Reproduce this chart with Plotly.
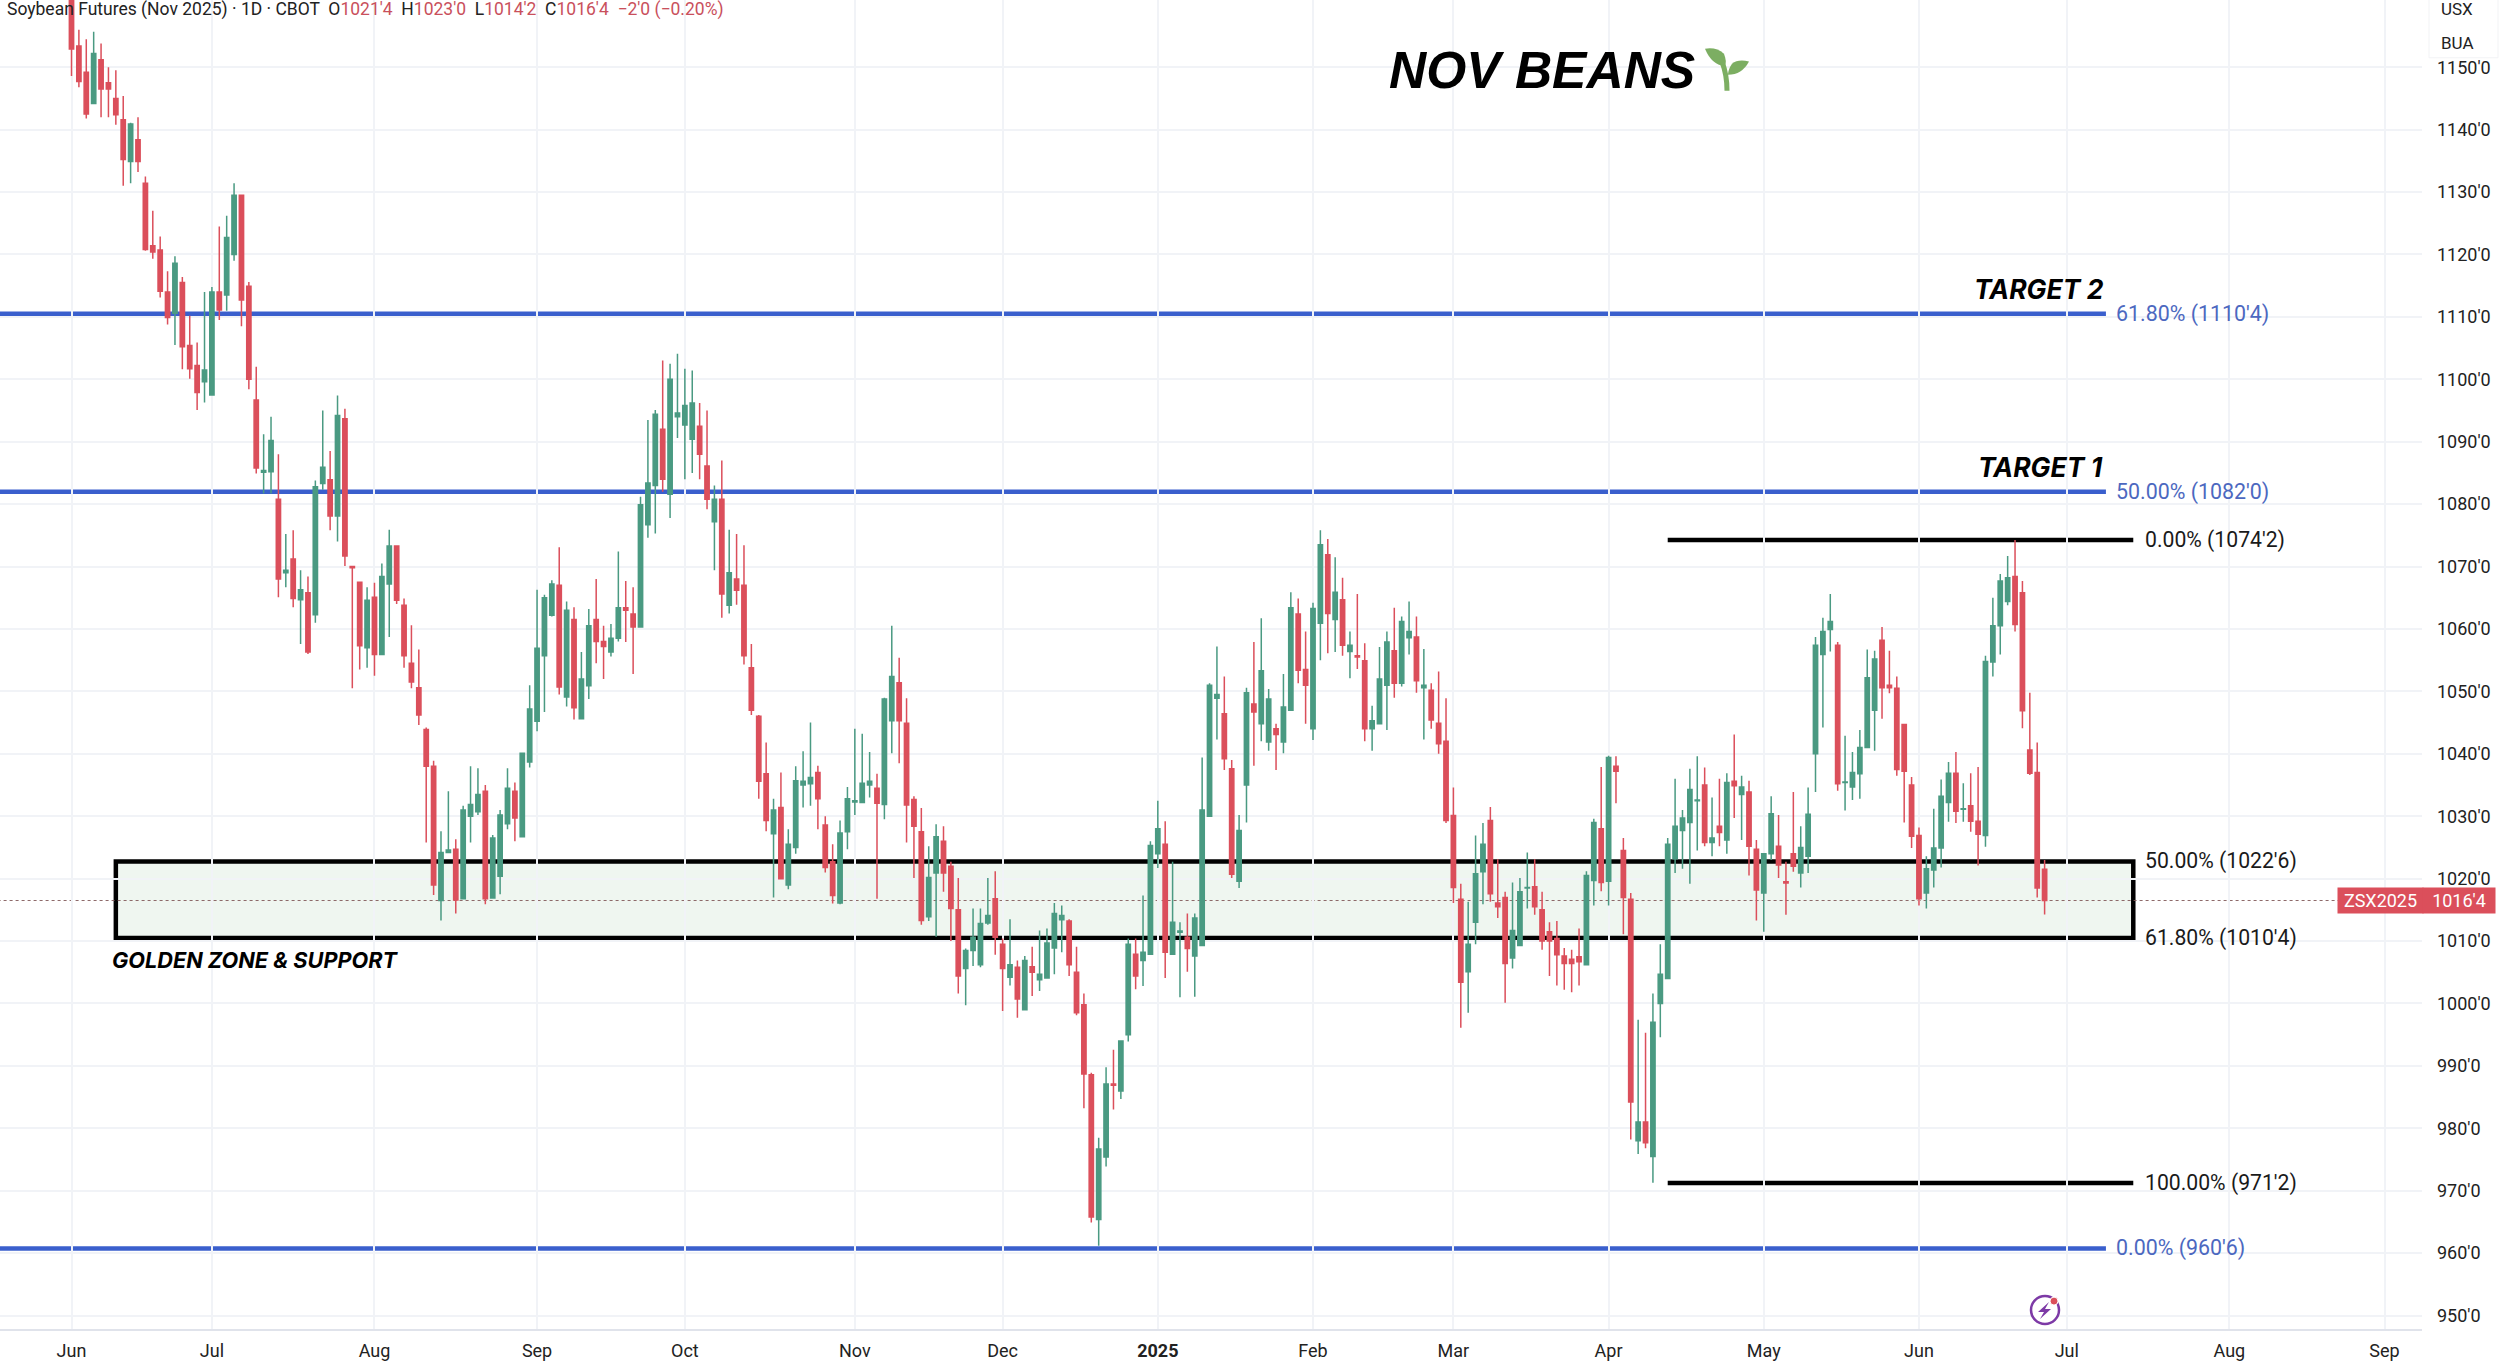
import plotly.graph_objects as go

# daily bars (prices in cents), first bar sits on the Jun line
opens = [1170, 1153.4, 1149.2, 1144.2, 1151.2, 1147.5, 1145, 1141.6, 1134.9, 1138.4,
         1131.4, 1121.4, 1120.7, 1114, 1110.6, 1115.5, 1105.4, 1102.2, 1099.6, 1097.5,
         1114, 1113.5, 1120, 1129.5, 1114.9, 1096.7, 1085.1, 1085.2, 1080.8, 1069,
         1071.2, 1064.7, 1065.8, 1062.3, 1083.3, 1083.9, 1078.1, 1093.7, 1070, 1067.5,
         1057, 1065.1, 1055.9, 1067.2, 1073.3, 1063.8, 1054.5, 1050.6, 1043.9, 1038,
         1016.5, 1024.2, 1024.7, 1016.8, 1030, 1030.7, 1034, 1016.9, 1020.4, 1028.8,
         1034, 1026.7, 1038.7, 1045.2, 1055.7, 1062.2, 1067, 1049.1, 1061.5, 1045.6,
         1050.9, 1061.5, 1058, 1056.3, 1058.5, 1063.4, 1062.4, 1060.3, 1076.7, 1083,
         1092, 1081.6, 1094, 1092.7, 1090.4, 1092.5, 1086.1, 1077.2, 1080.8, 1063.8,
         1068, 1067, 1053.8, 1046, 1036.8, 1027.2, 1031.4, 1019, 1025, 1035,
         1035.2, 1037, 1028.6, 1022.7, 1016.1, 1027.5, 1032.3, 1032.2, 1035, 1034.5,
         1031.9, 1045.3, 1051.4, 1044.9, 1032.7, 1027.5, 1013.9, 1020.9, 1026, 1022,
         1015, 1005.6, 1008.5, 1006.2, 1012.9, 1016.8, 1009.5, 1004.2, 1005.8, 999,
         1005.9, 1003.8, 1004.1, 1008.9, 1013.4, 1013.2, 1005, 999.8, 988.6, 965.4,
         975.4, 987.1, 986, 995, 1007.9, 1006.9, 1007.9, 1024, 1025.5, 1007.9,
         1011.4, 1010.6, 1007.6, 1009.3, 1030, 1048.9, 1046.4, 1037.6, 1019.6, 1035,
         1048, 1044.8, 1041.9, 1044, 1041.9, 1047, 1062.4, 1053.5, 1044, 1060.9,
         1071.9, 1061.5, 1064.7, 1056.4, 1055.7, 1054.9, 1044, 1044.8, 1051, 1056.5,
         1051.3, 1058.6, 1058.7, 1050.6, 1050.2, 1044.9, 1042, 1030.1, 1016.7, 1005.1,
         1013, 1021.1, 1029.3, 1016.1, 1017, 1007.3, 1009.3, 1018.5, 1018.7, 1015,
         1011.5, 1010.4, 1007.6, 1007.1, 1007.5, 1006.2, 1019.7, 1028, 1019.6, 1038,
         1024.5, 1016.7, 978, 981, 975.5, 1000, 1004, 1023.2, 1027.7, 1029,
         1032.5, 1035, 1025.8, 1028.4, 1026.2, 1035.6, 1033.5, 1033.9, 1024.7, 1017.7,
         1024, 1025.2, 1019.5, 1024, 1020.9, 1023.6, 1040, 1055.9, 1059.9, 1057.4,
         1035.4, 1034.7, 1036.8, 1041, 1047, 1058.2, 1051, 1050.5, 1044.7, 1035,
         1026.9, 1017.7, 1021.4, 1024.9, 1032.2, 1036.9, 1031.1, 1031.7, 1029.2, 1026.9,
         1054.7, 1060.5, 1064.4, 1068.4, 1065.8, 1040.6, 1037, 1021.5]
highs = [1172, 1156, 1154.5, 1155.7, 1153.8, 1150, 1149.5, 1145.4, 1141.1, 1142,
         1132.5, 1127, 1122.9, 1117.3, 1119.7, 1116.4, 1110.2, 1105.9, 1114, 1114.8,
         1124.5, 1126.2, 1131.4, 1129.5, 1115.6, 1102, 1091.2, 1094, 1088, 1075.2,
         1075.8, 1069.4, 1068.4, 1083.8, 1095, 1088.5, 1097.4, 1095.3, 1070.1, 1067.5,
         1066.7, 1067.4, 1070.5, 1075.9, 1073.4, 1064.9, 1060.6, 1056.7, 1044.2, 1038.9,
         1027.6, 1034, 1026.3, 1031.7, 1038, 1037.7, 1035, 1027, 1031, 1037.7,
         1035.4, 1040.2, 1051, 1066.3, 1065.5, 1067.8, 1073.1, 1064.4, 1063.5, 1056.3,
         1063.2, 1068, 1060.5, 1060.8, 1072.4, 1067.7, 1066.7, 1081.2, 1093.5, 1095.1,
         1103, 1102.5, 1104.1, 1101.7, 1101.4, 1096.2, 1095, 1083, 1087, 1075.9,
         1075.2, 1073.4, 1057.6, 1046.2, 1041.8, 1032.8, 1037, 1027.9, 1038, 1040.4,
         1045, 1038.1, 1030, 1025.5, 1029.3, 1034.7, 1044, 1043.2, 1040.3, 1036.8,
         1049, 1060.5, 1055.4, 1048.9, 1033.2, 1031.3, 1025.2, 1028.7, 1028.4, 1022.7,
         1020.1, 1008.8, 1015.2, 1015.2, 1020.1, 1021.2, 1010.4, 1013.5, 1006.9, 1007.6,
         1009.1, 1011.7, 1012, 1016.1, 1015.7, 1013.5, 1009.1, 1001.6, 988.9, 978.5,
         989.8, 992.6, 994.1, 1010.4, 1010.4, 1017.3, 1026, 1032.5, 1029.2, 1022.7,
         1013, 1014.4, 1014.4, 1039.4, 1051.3, 1057.2, 1052.4, 1039, 1030.2, 1050.6,
         1057.9, 1061.7, 1050.4, 1044.8, 1052.8, 1065.9, 1064.9, 1059.6, 1064.2, 1075.8,
         1074.4, 1071.5, 1068.2, 1059.6, 1065.6, 1057.7, 1047.7, 1057.1, 1059.6, 1063.4,
         1062, 1064.4, 1062, 1056.8, 1051.3, 1053.2, 1048.9, 1034.6, 1019.2, 1016.3,
         1026.9, 1028.9, 1031.5, 1023.1, 1017.9, 1019.4, 1020.1, 1024.2, 1023.1, 1017.9,
         1013, 1013.2, 1008.9, 1008.6, 1012, 1021.2, 1029.6, 1037.9, 1039.7, 1039.6,
         1026.5, 1017.7, 997.4, 995.3, 1001.6, 1009.5, 1026.5, 1036, 1031, 1037.6,
         1039.6, 1037.8, 1033, 1036, 1036.9, 1043.1, 1036.5, 1035.7, 1026.2, 1024,
         1033.2, 1030.2, 1022.7, 1033.9, 1028.4, 1034.6, 1058.7, 1061.8, 1065.6, 1057.9,
         1042.9, 1040.3, 1043.8, 1056.7, 1056.5, 1060.3, 1056.5, 1052.4, 1044.7, 1036.3,
         1028.2, 1023.6, 1031.2, 1035.9, 1038.7, 1040.3, 1035.3, 1036.9, 1037.9, 1055.7,
         1065, 1068.8, 1071.7, 1074.25, 1067.7, 1049.8, 1041.8, 1023]
lows = [1148.6, 1146.8, 1141.8, 1144.2, 1142, 1142, 1140.8, 1131, 1131.4, 1133.2,
        1120.6, 1119.3, 1113.1, 1108.8, 1105.5, 1101.6, 1100.1, 1095.1, 1096.3, 1097.5,
        1109.5, 1111, 1119, 1108.5, 1098.4, 1084.9, 1081.7, 1081.7, 1065.1, 1066.7,
        1063.5, 1057.6, 1056, 1061, 1082.3, 1075.8, 1074, 1070.1, 1050.5, 1053.5,
        1053.8, 1052.5, 1055.9, 1058.7, 1064, 1053.8, 1050.5, 1044.6, 1025.8, 1017.4,
        1013.3, 1024.2, 1014.4, 1016.8, 1025.8, 1030.2, 1015.9, 1016.9, 1017.5, 1027.9,
        1026, 1026.7, 1037.8, 1043.6, 1046.7, 1062, 1049.5, 1047.6, 1045.5, 1045.6,
        1048.8, 1054.5, 1052, 1055.6, 1058, 1057.9, 1052.8, 1060.3, 1074.6, 1075.3,
        1082, 1077.8, 1090.6, 1084, 1085, 1084, 1079.2, 1069.4, 1061.8, 1062.5,
        1063.9, 1054.3, 1046.2, 1032.8, 1027.6, 1017, 1019.9, 1018.3, 1024, 1031.4,
        1031.7, 1027.9, 1021, 1016, 1015.9, 1024.7, 1030.2, 1032.2, 1033, 1016.8,
        1029.5, 1040.1, 1038.5, 1025.8, 1020.1, 1012.6, 1013.2, 1010.7, 1017.9, 1010,
        1001.6, 999.7, 1006, 1005.8, 1012.6, 1007.8, 998.8, 1002.9, 997.7, 999,
        1001.2, 1002, 1004, 1004.7, 1008.2, 1004.4, 998.1, 983.2, 964.9, 961.2,
        973.9, 983, 984.7, 993.9, 1002.3, 1002.8, 1007.9, 1021.7, 1004.1, 1007.9,
        1001, 1005.1, 1001.1, 1009.3, 1030, 1042.3, 1037.4, 1020.1, 1018.5, 1029,
        1038.1, 1042, 1040.5, 1037.4, 1040.1, 1047, 1051.3, 1044.8, 1042.2, 1055,
        1056.1, 1056.3, 1055.7, 1052.1, 1053.6, 1042, 1040.5, 1044.8, 1043.8, 1049,
        1050.8, 1055.9, 1049.8, 1042.3, 1044, 1040, 1028.9, 1016.1, 996.1, 998.5,
        1009.5, 1015.9, 1016.3, 1013.7, 1000.1, 1005.6, 1009.3, 1015.2, 1014.2, 1008.6,
        1004.4, 1002.9, 1002.2, 1001.8, 1002.9, 1006.2, 1015.7, 1018, 1015.7, 1032.1,
        1011.1, 978.2, 975.9, 976.8, 971.3, 994.6, 1004, 1020.9, 1021.6, 1019.2,
        1024.5, 1025.2, 1023.6, 1025.2, 1024, 1029.7, 1026.2, 1020.5, 1013.3, 1011.5,
        1023, 1020.1, 1014.2, 1021.1, 1018.6, 1020.9, 1033.9, 1044.2, 1056.4, 1034.1,
        1030.9, 1032.6, 1032.8, 1041, 1040.5, 1045.6, 1049.7, 1036.5, 1029, 1024.9,
        1015.7, 1015.2, 1018.6, 1021.8, 1029.1, 1028.9, 1029.1, 1027.5, 1022.1, 1025.1,
        1052.4, 1055.9, 1063.8, 1059.6, 1044.1, 1036.6, 1017, 1014.25]
closes = [1152.9, 1147.7, 1142.5, 1152.2, 1146.5, 1146.5, 1142.4, 1135.2, 1140.9, 1134.9,
          1120.8, 1120.4, 1114.1, 1109.9, 1118.6, 1105.2, 1101.7, 1097.9, 1101.5, 1114,
          1111.1, 1122.7, 1129.5, 1112.7, 1100, 1085.8, 1085.4, 1090.2, 1068, 1069.4,
          1064.9, 1066.3, 1056.3, 1082.8, 1085.9, 1078.1, 1094.2, 1071.7, 1069.8, 1057.3,
          1064.6, 1055.9, 1068.4, 1073.3, 1064.6, 1055.7, 1051.5, 1046.2, 1038, 1019,
          1024.2, 1024.6, 1016.6, 1031, 1031.9, 1033.5, 1016.8, 1026.5, 1030.2, 1034.5,
          1029.7, 1040.1, 1047.2, 1056.9, 1065, 1067.2, 1050.7, 1063, 1047.4, 1052,
          1060.5, 1058, 1057.2, 1058.5, 1063.4, 1063, 1060.3, 1079.9, 1083.4, 1094.4,
          1084, 1100, 1094.6, 1095.8, 1096.2, 1088, 1080.8, 1080.8, 1065.6, 1069,
          1066.2, 1055.7, 1047, 1035.6, 1029.3, 1031, 1020, 1025.5, 1035.7, 1035.6,
          1036.2, 1032.8, 1021.8, 1017.3, 1027.3, 1032.8, 1032.5, 1035.3, 1035.6, 1032.1,
          1048.8, 1052.4, 1045.3, 1031.8, 1028.4, 1013.3, 1020.2, 1026.7, 1020.9, 1015.2,
          1004.4, 1008.5, 1010.6, 1012.8, 1014.1, 1010.6, 1005.6, 1006.2, 1000.7, 1006.9,
          1005, 1004.7, 1009.7, 1014.4, 1014.1, 1006.2, 998.5, 988.7, 965.8, 976.7,
          987.1, 986.9, 994, 1009.5, 1004.4, 1008.2, 1025.3, 1028, 1008.2, 1013,
          1011.6, 1008.8, 1013.7, 1031, 1051, 1049.5, 1039.2, 1020.7, 1027.7, 1049.8,
          1046.7, 1053.3, 1048.8, 1043.1, 1047.5, 1063.4, 1053.4, 1051, 1063.3, 1073.5,
          1062.5, 1065.9, 1057.4, 1057.4, 1055.5, 1044, 1045.3, 1052, 1057.9, 1051.3,
          1061.2, 1059.6, 1051.7, 1051, 1045.4, 1041.6, 1029.3, 1018.6, 1003.4, 1009.5,
          1020.8, 1025.5, 1017.6, 1015.5, 1006.4, 1011.7, 1017.9, 1018.6, 1015.5, 1010,
          1010, 1007.8, 1006.4, 1006.4, 1006.7, 1020.5, 1029, 1019.4, 1039.4, 1037.2,
          1017, 984.2, 981, 977.7, 997, 1004.7, 1025.5, 1028.4, 1029.7, 1034.3,
          1032.6, 1025.8, 1026.5, 1027.4, 1035.4, 1034.9, 1034.7, 1025.2, 1018.2, 1024,
          1030.4, 1022.2, 1019.3, 1022, 1025, 1030.3, 1057.4, 1059.6, 1061.2, 1035.2,
          1035.5, 1037, 1041, 1052.2, 1055.2, 1050.6, 1050.6, 1037.5, 1037.2, 1026.8,
          1016.8, 1021.6, 1024.9, 1033.2, 1036.9, 1030.8, 1031.2, 1029.2, 1027.1, 1054.8,
          1060.5, 1067.7, 1068.2, 1060.7, 1046.9, 1036.9, 1018.5, 1016.5]
bar_index = list(range(len(opens)))

month_ticks = [0, 19, 41, 63, 83, 106, 126, 147, 168, 187, 208, 229, 250, 270, 292, 313]
month_labels = ['Jun', 'Jul', 'Aug', 'Sep', 'Oct', 'Nov', 'Dec', '<b>2025</b>', 'Feb', 'Mar',
                'Apr', 'May', 'Jun', 'Jul', 'Aug', 'Sep']
price_ticks = list(range(950, 1160, 10))
price_labels = [f"{p}'0" for p in price_ticks]

# long fib levels (blue) and short fib levels (black)
blue_levels = [1110.5, 1082, 960.75]
blue_labels = ["61.80% (1110'4)", "50.00% (1082'0)", "0.00% (960'6)"]
black_levels = [1074.25, 971.25]
black_labels = ["0.00% (1074'2)", "100.00% (971'2)"]
zone_levels = [1022.75, 1010.5]
zone_labels = ["50.00% (1022'6)", "61.80% (1010'4)"]
last_price = 1016.5

GREEN = '#4a9a82'
RED = '#db4f5b'
BLUE = '#3a5fcd'
FONT = 'Roboto'
PLOT_W = 2422
PLOT_H = 1334


# page pixels to paper coords, for the little icons
def pap_x(x):
    return x / PLOT_W


def pap_y(y):
    return 1 - y / PLOT_H


def pap_path(points):
    out = []
    for cmd, *xy in points:
        coords = [f"{pap_x(xy[k])},{pap_y(xy[k + 1])}" for k in range(0, len(xy), 2)]
        out.append(cmd + ' ' + ' '.join(coords))
    return ' '.join(out)


fig = go.Figure()
fig.add_trace(go.Candlestick(x=bar_index, open=opens, high=highs, low=lows, close=closes,
                             increasing=dict(line=dict(color=GREEN, width=1.5), fillcolor=GREEN),
                             decreasing=dict(line=dict(color=RED, width=1.5), fillcolor=RED),
                             whiskerwidth=0, hoverinfo='skip', showlegend=False))

# levels
for lvl in blue_levels:
    fig.add_shape(type='line', x0=-10, x1=275.3, y0=lvl, y1=lvl, layer='below',
                  line=dict(color=BLUE, width=4.5))
for lvl in black_levels:
    fig.add_shape(type='line', x0=216, x1=279, y0=lvl, y1=lvl, layer='below',
                  line=dict(color='black', width=4.5))
fig.add_shape(type='rect', x0=6, x1=279, y0=zone_levels[1], y1=zone_levels[0], layer='below',
              fillcolor='rgba(76,160,90,0.09)', line=dict(color='black', width=4.5))
fig.add_shape(type='line', x0=-10, x1=PLOT_W, y0=last_price, y1=last_price, layer='below',
              line=dict(color='rgba(130,90,90,0.9)', width=1.2, dash='dot'))

# level labels
for lvl, txt in zip(blue_levels, blue_labels):
    fig.add_annotation(x=276.4, y=lvl, text=txt, xanchor='left', showarrow=False,
                       font=dict(family=FONT, size=21.4, color='#4c68c0'))
for lvl, txt in zip(black_levels + zone_levels, black_labels + zone_labels):
    fig.add_annotation(x=280.3, y=lvl, text=txt, xanchor='left', showarrow=False,
                       font=dict(family=FONT, size=21.2, color='#1a1a1a'))

# hand written notes on the chart
for xpos, ypos, txt in [(275.3, 1114.5, 'TARGET 2'), (275.2, 1085.9, 'TARGET 1')]:
    fig.add_annotation(x=xpos, y=ypos, text=txt, xanchor='right', showarrow=False,
                       font=dict(family='Inter', size=26.5, color='black', weight=700, style='italic'))
fig.add_annotation(x=5.2, y=1006.9, text='GOLDEN ZONE &amp; SUPPORT', xanchor='left', showarrow=False,
                   font=dict(family='Inter', size=21.7, color='black', weight=700, style='italic'))
fig.add_annotation(x=178.0, y=1149.5, text='NOV BEANS', xanchor='left', showarrow=False,
                   font=dict(family='Liberation Sans', size=51.5, color='black', weight=700, style='italic'))

# header line
red_span = '<span style="color:#c9505c">%s</span>'
header = ("Soybean Futures (Nov 2025) · 1D · CBOT  O" + red_span % "1021'4" + "  H" + red_span % "1023'0"
          + "  L" + red_span % "1014'2" + "  C" + red_span % "1016'4" + "  " + red_span % "−2'0 (−0.20%)")
fig.add_annotation(xref='paper', yref='paper', x=pap_x(5), y=pap_y(-3), text=header, xanchor='left',
                   yanchor='top', showarrow=False, font=dict(family=FONT, size=17.5, color='#222222'))

# currency/unit box top right, sits over the 1150 label
fig.add_shape(type='rect', xref='paper', yref='paper', x0=pap_x(2429), x1=pap_x(2498), y0=pap_y(58), y1=pap_y(-4),
              fillcolor='white', line=dict(color='#f2f3f5', width=1), layer='above')
for ypix, txt in [(9, 'USX'), (43, 'BUA')]:
    fig.add_annotation(xref='paper', yref='paper', x=pap_x(2457), y=pap_y(ypix), text=txt, showarrow=False,
                       xanchor='center', yanchor='middle', font=dict(family=FONT, size=17, color='#222222'))

# last price tags
for x_mid, wide, txt in [(2380, 83, 'ZSX2025'), (2459, 70, "1016'4")]:
    fig.add_annotation(xref='paper', yref='y', x=pap_x(x_mid), y=last_price, text=txt, showarrow=False,
                       xanchor='center', yanchor='middle', width=wide, height=23, bgcolor=RED,
                       font=dict(family=FONT, size=18, color='white'))

# sprout next to the title
SPROUT = '#7cae62'
fig.add_shape(type='path', xref='paper', yref='paper', layer='above',
              path=pap_path([('M', 1705, 49), ('Q', 1716, 47, 1724, 54), ('Q', 1727, 62, 1725, 66),
                             ('Q', 1712, 66, 1705, 49), ('Z',)]),
              fillcolor=SPROUT, line=dict(width=0))
fig.add_shape(type='path', xref='paper', yref='paper', layer='above',
              path=pap_path([('M', 1749, 61.7), ('Q', 1738, 59, 1732, 64), ('Q', 1728, 70, 1728, 75),
                             ('Q', 1742, 75, 1749, 61.7), ('Z',)]),
              fillcolor=SPROUT, line=dict(width=0))
fig.add_shape(type='path', xref='paper', yref='paper', layer='above',
              path=pap_path([('M', 1727, 91), ('Q', 1727, 75, 1722, 62)]),
              line=dict(color=SPROUT, width=5))

# lightning icon near the last bar
PURPLE = '#7d3aa6'
fig.add_shape(type='circle', xref='paper', yref='paper', layer='above',
              x0=pap_x(2031), x1=pap_x(2059), y0=pap_y(1329), y1=pap_y(1301),
              fillcolor='white', line=dict(color=PURPLE, width=2.5))
fig.add_shape(type='path', xref='paper', yref='paper', layer='above',
              path=pap_path([('M', 2049, 1307), ('L', 2038, 1317), ('L', 2044, 1317), ('L', 2040, 1324),
                             ('L', 2051, 1314), ('L', 2045, 1314), ('Z',)]),
              fillcolor=PURPLE, line=dict(width=0))
fig.add_shape(type='circle', xref='paper', yref='paper', layer='above',
              x0=pap_x(2050), x1=pap_x(2058), y0=pap_y(1310), y1=pap_y(1302),
              fillcolor='#db4f5b', line=dict(color='white', width=1))

fig.update_layout(width=2500, height=1361, autosize=False,
                  margin=dict(l=0, r=78, t=0, b=27), boxgap=0.42, boxgroupgap=0,
                  paper_bgcolor='white', plot_bgcolor='white', showlegend=False,
                  font=dict(family=FONT, size=18, color='#222222'))
fig.update_xaxes(range=[-9.675, 318.07], rangeslider_visible=False, tickmode='array',
                 tickvals=month_ticks, ticktext=month_labels, showgrid=True, gridcolor='#f1f3f7',
                 gridwidth=1.5, zeroline=False, showline=True, linecolor='#e0e3eb', linewidth=2,
                 ticks='', tickfont=dict(family=FONT, size=18, color='#222222'), ticklabelstandoff=4)
fig.update_yaxes(range=[947.85, 1160.77], side='right', tickmode='array', tickvals=price_ticks,
                 ticktext=price_labels, showgrid=True, gridcolor='#f1f3f7', gridwidth=1.5,
                 zeroline=False, showline=False, ticks='',
                 tickfont=dict(family=FONT, size=18, color='#222222'), ticklabelstandoff=14)

fig.write_html("out.html", config={'displayModeBar': False},
               post_script="document.body.style.margin='0';")
